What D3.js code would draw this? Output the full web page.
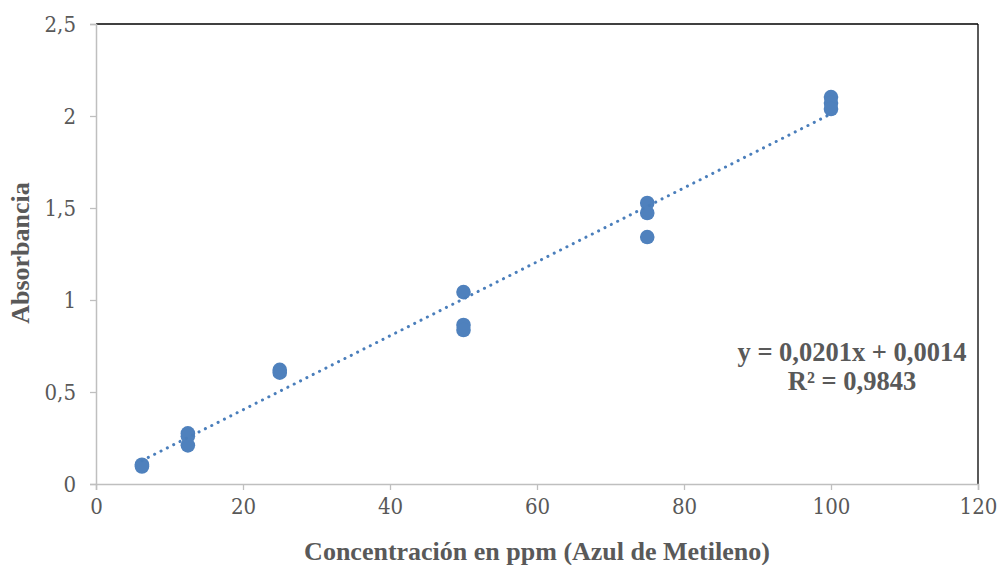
<!DOCTYPE html>
<html>
<head>
<meta charset="utf-8">
<script src="https://cdn.jsdelivr.net/npm/d3@7"></script>
<style>
body { margin: 0; background: #fff; }
.tick text { font-family: "DejaVu Serif Condensed", "DejaVu Serif", serif; font-stretch: condensed; font-size: 22px; fill: #595959; }
.ttl { font-family: "Liberation Serif", serif; font-weight: bold; fill: #595959; }
</style>
</head>
<body>
<svg id="chart" width="1003" height="565"></svg>
<script>
// measured concentrations and absorbances
var conc = [6.25, 6.25, 12.5, 12.5, 12.5, 25, 25, 50, 50, 50, 75, 75, 75, 100, 100, 100];
var absb = [0.105, 0.095, 0.275, 0.26, 0.21, 0.62, 0.605, 1.043, 0.864, 0.837, 1.527, 1.473, 1.342, 2.103, 2.07, 2.038];
var xTicks = [0, 20, 40, 60, 80, 100, 120];
var yTicks = [0, 0.5, 1, 1.5, 2, 2.5];
var slope = 0.0201, icept = 0.0014;
var eqLines = ["y = 0,0201x + 0,0014", "R² = 0,9843"];

var svg = d3.select("#chart"),
	pLeft = 96, pRight = 978, pTop = 24, pBottom = 484,
	fmt = function(d) { return String(d).replace(".", ","); };

var x = d3.scaleLinear().domain([0, 120]).range([pLeft, pRight]);
var y = d3.scaleLinear().domain([0, 2.5]).range([pBottom, pTop]);

// frame: black top/right, grey axes
svg.append("line").attr("x1", pLeft).attr("x2", pRight).attr("y1", pTop).attr("y2", pTop)
	.attr("stroke", "#000").attr("stroke-width", 1.3);
svg.append("line").attr("x1", pRight).attr("x2", pRight).attr("y1", pTop).attr("y2", pBottom)
	.attr("stroke", "#000").attr("stroke-width", 1.3);

var xAxis = svg.append("g")
	.attr("transform", "translate(0," + pBottom + ")")
	.call(d3.axisBottom(x).tickValues(xTicks).tickFormat(fmt).tickSize(6).tickPadding(8));
var yAxis = svg.append("g")
	.attr("transform", "translate(" + pLeft + ",0)")
	.call(d3.axisLeft(y).tickValues(yTicks).tickFormat(fmt).tickSize(6).tickPadding(14));
[xAxis, yAxis].forEach(function(a) {
	a.selectAll("path.domain").attr("stroke", "#bfbfbf").attr("stroke-width", 1.5);
	a.selectAll(".tick line").attr("stroke", "#bfbfbf").attr("stroke-width", 1.3);
});

// points
svg.append("g").selectAll("circle")
	.data(conc)
	.enter().append("circle")
	.attr("cx", function(d) { return x(d); })
	.attr("cy", function(d, i) { return y(absb[i]); })
	.attr("r", 7.3)
	.attr("fill", "#4f81bd");

// linear trend line
var xr = d3.extent(conc);
svg.append("line")
	.attr("x1", x(xr[0])).attr("y1", y(slope * xr[0] + icept))
	.attr("x2", x(xr[1])).attr("y2", y(slope * xr[1] + icept))
	.attr("stroke", "#4a7ebb").attr("stroke-width", 3)
	.attr("stroke-linecap", "round").attr("stroke-dasharray", "0.1 7");

// equation
svg.append("g").selectAll("text")
	.data(eqLines)
	.enter().append("text")
	.attr("class", "ttl")
	.attr("x", 852)
	.attr("y", function(d, i) { return 361 + i * 29; })
	.attr("text-anchor", "middle")
	.attr("font-size", "26.5px")
	.text(function(d) { return d; });

// axis titles
svg.append("text").attr("class", "ttl")
	.attr("x", 537).attr("y", 560)
	.attr("text-anchor", "middle").attr("font-size", "26px")
	.text("Concentración en ppm (Azul de Metileno)");
svg.append("text").attr("class", "ttl")
	.attr("transform", "translate(29,253) rotate(-90)")
	.attr("text-anchor", "middle").attr("font-size", "26px")
	.text("Absorbancia");
</script>
</body>
</html>
